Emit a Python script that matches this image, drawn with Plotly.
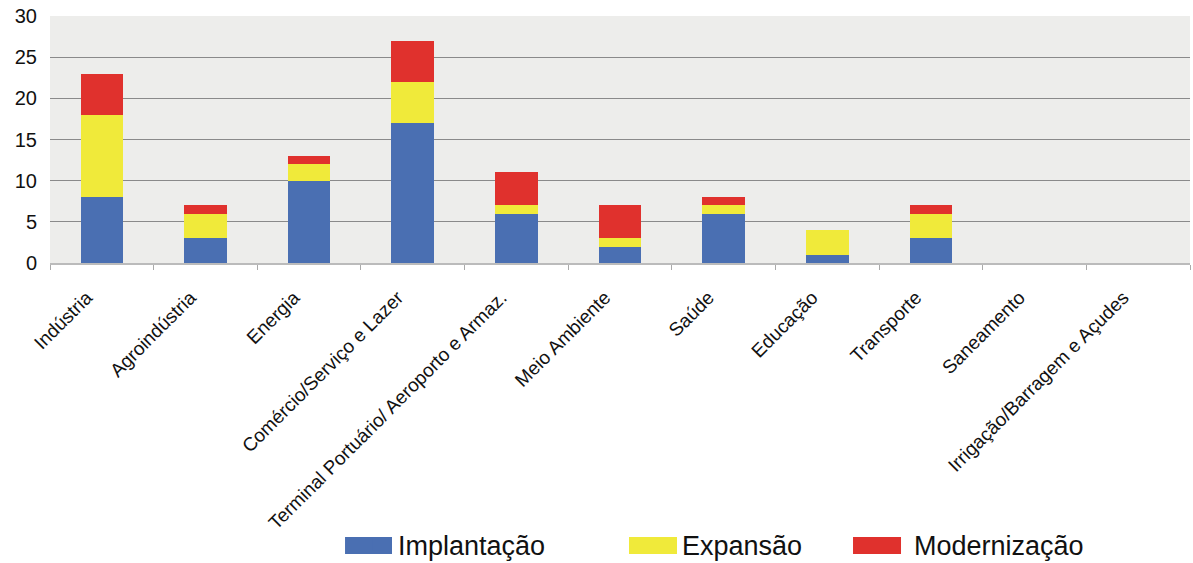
import plotly.graph_objects as go

categories = ["Indústria", "Agroindústria", "Energia", "Comércio/Serviço e Lazer",
              "Terminal Portuário/ Aeroporto e Armaz.", "Meio Ambiente", "Saúde",
              "Educação", "Transporte", "Saneamento", "Irrigação/Barragem e Açudes"]
implantacao = [8, 3, 10, 17, 6, 2, 6, 1, 3, 0, 0]
expansao = [10, 3, 2, 5, 1, 1, 1, 3, 3, 0, 0]
modernizacao = [5, 1, 1, 5, 4, 4, 1, 0, 1, 0, 0]

series_names = ["Implantação", "Expansão", "Modernização"]
series_values = [implantacao, expansao, modernizacao]
series_colors = ["#4a6fb2", "#f0ea3a", "#e0312d"]
legend_ids = ["legend", "legend2", "legend3"]
legend_x = [0.2702, 0.5193, 0.7228]
swatch_x = [(0.2588, 0.3000), (0.5079, 0.5500), (0.7044, 0.7465)]

fig = go.Figure()
for name, vals, color, leg in zip(series_names, series_values, series_colors, legend_ids):
    fig.add_trace(go.Bar(x=categories, y=vals, name=name, marker_color=color,
                         marker_line_width=0, legend=leg, showlegend=True))

# wide legend swatches behind the legend symbols
for color, (x0, x1) in zip(series_colors, swatch_x):
    fig.add_shape(type="rect", xref="paper", yref="paper", x0=x0, x1=x1,
                  y0=-1.178, y1=-1.109, fillcolor=color, line_width=0, layer="above")

legend_common = dict(orientation="h", yanchor="middle", y=-1.14, xanchor="left",
                     font=dict(family="Liberation Sans, Arial, sans-serif", size=27, color="#111"),
                     bgcolor="rgba(0,0,0,0)")
fig.update_layout(
    barmode="stack",
    bargap=0.59,
    showlegend=True,
    width=1193, height=563,
    margin=dict(l=50, r=3, t=16, b=300, autoexpand=False),
    paper_bgcolor="white",
    plot_bgcolor="#ededeb",
    font=dict(family="Liberation Sans, Arial, sans-serif", color="#111"),
    legend=dict(x=legend_x[0], **legend_common),
    legend2=dict(x=legend_x[1], **legend_common),
    legend3=dict(x=legend_x[2], **legend_common),
    xaxis=dict(tickangle=-45, tickfont=dict(size=19), showline=True, linecolor="#bbbbbb",
               linewidth=2, ticks="outside", tickson="boundaries", ticklen=5,
               tickcolor="#aaaaaa", showgrid=False, automargin=False,
               ticklabelstandoff=14, ticklabelshift=-15),
    yaxis=dict(range=[0, 30], dtick=5, tickfont=dict(size=20), showgrid=True,
               gridcolor="#8a8a8a", gridwidth=1, zeroline=False, ticks="",
               ticklabelstandoff=12, automargin=False),
)

fig.write_html("out.html")
